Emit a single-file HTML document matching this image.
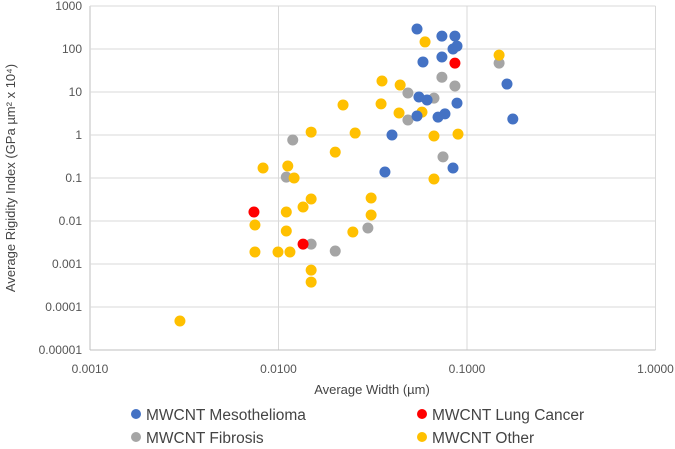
<!DOCTYPE html>
<html><head><meta charset="utf-8"><style>
body{margin:0;background:#fff}
svg{display:block;font-family:"Liberation Sans",sans-serif}
</style></head><body>
<svg id="chart" width="675" height="449" viewBox="0 0 675 449" xmlns="http://www.w3.org/2000/svg">
<g id="grid"></g>
<g id="axes"></g>
<g id="points"></g>
<text x="372" y="394" font-size="13" fill="#444" text-anchor="middle">Average Width (µm)</text>
<text transform="translate(15,178) rotate(-90)" font-size="13" fill="#444" text-anchor="middle">Average Rigidity Index (GPa µm² x 10⁴)</text>
<g font-size="15.5" fill="#444">
<g><circle cx="136" cy="414" r="5" fill="#4472C4"/><text x="146" y="420">MWCNT Mesothelioma</text></g>
<g><circle cx="422" cy="414" r="5" fill="#FF0000"/><text x="432" y="420">MWCNT Lung Cancer</text></g>
<g><circle cx="136" cy="437" r="5" fill="#A5A5A5"/><text x="146" y="443">MWCNT Fibrosis</text></g>
<g><circle cx="422" cy="437" r="5" fill="#FFC000"/><text x="432" y="443">MWCNT Other</text></g>
</g>
</svg>
<script>
const xTicks=["0.0010","0.0100","0.1000","1.0000"];
const yTicks=["0.00001","0.0001","0.001","0.01","0.1","1","10","100","1000"];
const mesoX=[0.0543,0.0736,0.0863,0.0843,0.0885,0.0584,0.0736,0.163,0.0556,0.0614,0.0885,0.0543,0.0702,0.0764,0.175,0.040,0.0843,0.0367];
const mesoY=[292,199,199,100,117,50,65,15.3,7.66,6.5,5.5,2.77,2.6,3.1,2.35,1,0.171,0.138];
const lungX=[0.0863,0.00741,0.0135];
const lungY=[47,0.0162,0.0029];
const fibX=[0.148,0.0736,0.0863,0.0486,0.0668,0.0486,0.0119,0.0746,0.011,0.0298,0.0149,0.020];
const fibY=[47,22,13.8,9.5,7.2,2.23,0.766,0.31,0.105,0.00687,0.0029,0.002];
const othX=[0.0599,0.148,0.0354,0.0442,0.022,0.035,0.0436,0.0577,0.0149,0.0255,0.0668,0.0896,0.020,0.00828,0.0112,0.0121,0.0668,0.0149,0.0135,0.011,0.031,0.031,0.0075,0.011,0.0248,0.0075,0.00994,0.0115,0.0149,0.0149,0.003];
const othY=[146,72,18,14.5,5,5.3,3.25,3.4,1.17,1.11,0.95,1.05,0.4,0.171,0.19,0.1,0.095,0.0325,0.0212,0.0162,0.0343,0.0138,0.00807,0.00585,0.00555,0.0019,0.0019,0.0019,0.00072,0.00038,0.0000472];
const NS="http://www.w3.org/2000/svg";
const X0=90,XD=188.5,Y0=350,YD=43;
function sx(v){return X0+(Math.log10(v)+3)*XD;}
function sy(v){return Y0-(Math.log10(v)+5)*YD;}
function mk(t,a,p){const e=document.createElementNS(NS,t);for(const k in a)e.setAttribute(k,a[k]);p.appendChild(e);return e;}
const grid=document.getElementById('grid'),axes=document.getElementById('axes'),pts=document.getElementById('points');
xTicks.forEach((t,i)=>{const v=parseFloat(t);const x=sx(v);
 const l=mk('line',{x1:x,x2:x,y1:sy(1000),y2:Y0,stroke:i===0?'#bfbfbf':'#d9d9d9','stroke-width':1},grid);
 
 
 const tx=mk('text',{x:x,y:373,'font-size':12,fill:'#555','text-anchor':'middle'},axes);tx.textContent=t;
 
 
});
yTicks.forEach((t,i)=>{const v=parseFloat(t);const y=sy(v);
 const l=mk('line',{x1:X0,x2:sx(1),y1:y,y2:y,stroke:i===0?'#bfbfbf':'#d9d9d9','stroke-width':1},grid);
 
 
 const tx=mk('text',{x:X0-8,y:y+4,'font-size':12,fill:'#555','text-anchor':'end'},axes);tx.textContent=t;
 
 
});
function series(xs,ys,col,name){xs.forEach((x,i)=>{const c=mk('circle',{cx:sx(x),cy:sy(ys[i]),r:5.5,fill:col},pts);
 
 });}
series(fibX,fibY,'#A5A5A5','point-fibrosis');
series(othX,othY,'#FFC000','point-other');
series(mesoX,mesoY,'#4472C4','point-mesothelioma');
series(lungX,lungY,'#FF0000','point-lung-cancer');
</script>
</body></html>
